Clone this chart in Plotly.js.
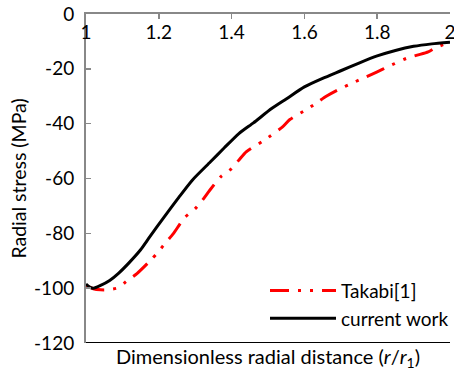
<!DOCTYPE html>
<html>
<head>
<meta charset="utf-8">
<script src="https://cdn.plot.ly/plotly-3.0.1.min.js"></script>
<style>html,body{margin:0;padding:0;background:#fff;}#chart{width:454px;height:373px;}</style>
</head>
<body>
<div id="chart"></div>
<script>
// Data
const takabiX = [1, 1.02, 1.04, 1.06, 1.09, 1.11, 1.14, 1.18, 1.2, 1.22, 1.24, 1.27, 1.3, 1.32, 1.34, 1.37, 1.4, 1.42, 1.44, 1.49, 1.54, 1.56, 1.61, 1.64, 1.66, 1.69, 1.74, 1.77, 1.8, 1.83, 1.88, 1.91, 1.94, 1.96, 2];
const takabiY = [-99, -100.2, -100.6, -100.6, -99.8, -97.6, -94.7, -89.5, -86.5, -83.2, -80.1, -74.4, -71, -67.9, -64.3, -59.4, -56.4, -53.3, -50.3, -46.0, -41.2, -38.5, -34.5, -31.8, -30, -27.8, -24.7, -22.9, -21.1, -19.2, -16.2, -15.0, -13.8, -12.3, -10.3];
const currentX = [1, 1.01, 1.02, 1.04, 1.065, 1.09, 1.12, 1.15, 1.175, 1.215, 1.256, 1.292, 1.342, 1.38, 1.42, 1.46, 1.51, 1.55, 1.6, 1.65, 1.7, 1.75, 1.8, 1.85, 1.9, 1.95, 2];
const currentY = [-98.5, -99.6, -100, -99, -97.2, -94.5, -90.5, -86, -81.3, -74, -66.7, -60.6, -53.9, -48.8, -43.6, -39.7, -34.5, -31, -26.6, -23.5, -20.7, -17.9, -15.3, -13.3, -11.8, -10.9, -10.3];
const xTickVals = [1, 1.2, 1.4, 1.6, 1.8, 2];
const xTickText = ['1', '1.2', '1.4', '1.6', '1.8', '2'];
const yTickVals = [0, -20, -40, -60, -80, -100, -120];
const yTickText = ['0', '-20', '-40', '-60', '-80', '-100', '-120'];
const seriesNames = ['Takabi[1]', 'current work'];

const FONT = 'Lato, "Open Sans", sans-serif';
const traces = [
  {x: takabiX, y: takabiY, name: seriesNames[0], mode: 'lines', type: 'scatter',
   line: {color: '#ff0000', width: 3, dash: '19px,9px,3px,9px,3px,9px', shape: 'spline', smoothing: 0.6}},
  {x: currentX, y: currentY, name: seriesNames[1], mode: 'lines', type: 'scatter',
   line: {color: '#000000', width: 3, shape: 'spline', smoothing: 0.6}}
];
const layout = {
  width: 454, height: 373,
  margin: {l: 86, r: 0, t: 14, b: 30},
  paper_bgcolor: '#ffffff', plot_bgcolor: '#ffffff',
  font: {family: FONT, size: 19, color: '#000'},
  showlegend: true,
  legend: {x: 0.492, y: 0.217, xanchor: 'left', yanchor: 'top', bgcolor: 'rgba(0,0,0,0)',
           font: {family: FONT, size: 19, color: '#000'}, itemwidth: 66, tracegroupgap: 0},
  xaxis: {range: [1, 2], side: 'top', tickvals: xTickVals, ticktext: xTickText,
          ticks: 'inside', ticklen: 5, tickwidth: 1.5, tickcolor: '#888',
          showline: true, linecolor: '#888', linewidth: 2, showgrid: false, zeroline: false,
          ticklabelposition: 'inside', ticklabeloverflow: 'allow', ticklabelstandoff: 8,
          tickfont: {family: FONT, size: 19, color: '#000'}},
  yaxis: {range: [-120, 0], tickvals: yTickVals, ticktext: yTickText,
          ticks: 'inside', ticklen: 5, tickwidth: 1.5, tickcolor: '#888',
          showline: true, linecolor: '#888', linewidth: 2, showgrid: false, zeroline: false,
          ticklabelstandoff: 6,
          tickfont: {family: FONT, size: 19, color: '#000'},
          title: {text: 'Radial stress (MPa)', font: {family: FONT, size: 19.5, color: '#000'}, standoff: 2}},
  shapes: [
    {type: 'line', xref: 'paper', yref: 'y', x0: 0, x1: 1, y0: -120, y1: -120,
     line: {color: '#000', width: 2}}
  ],
  annotations: [
    {text: 'Dimensionless radial distance (<i>r</i>/<i>r</i><sub>1</sub>)', xref: 'paper', yref: 'paper',
     x: 0.5, y: -0.043, xanchor: 'center', yanchor: 'middle', showarrow: false,
     font: {family: FONT, size: 20, color: '#000'}}
  ]
};
Plotly.newPlot('chart', traces, layout, {displayModeBar: false, staticPlot: true});
</script>
</body>
</html>
